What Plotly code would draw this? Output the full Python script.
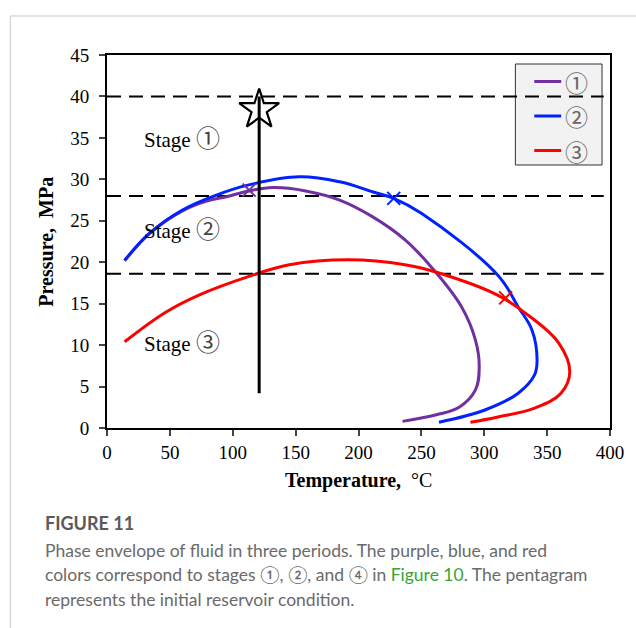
import plotly.graph_objects as go

# ---- data ----
t1 = [14, 34, 60, 80, 95, 113, 132, 158, 185, 211, 237, 258, 282, 293, 296, 293, 280, 262, 235]
p1 = [20.2, 23.5, 26.2, 27.4, 27.9, 28.6, 29.0, 28.6, 27.5, 25.5, 22.7, 19.4, 14.6, 10.6, 7.4, 4.6, 2.5, 1.6, 0.8]

t2 = [14, 34, 60, 87, 112, 153, 185, 211, 228, 250, 311, 327, 338, 342, 340, 327, 301, 264]
p2 = [20.2, 23.5, 26.3, 28.1, 29.3, 30.3, 29.7, 28.5, 27.7, 25.9, 18.4, 14.6, 11.8, 8.2, 6.4, 4.2, 2.2, 0.7]

t3 = [14, 47, 74, 113, 145, 192, 237, 264, 311, 335, 359, 368, 361, 340, 310, 289]
p3 = [10.4, 14.0, 16.1, 18.3, 19.7, 20.3, 19.7, 18.7, 16.0, 13.6, 10.3, 6.8, 4.2, 2.4, 1.3, 0.7]

cross_t = [113, 228, 317]
cross_p = [28.7, 27.7, 15.7]

series_names = ["①", "②", "③"]
colors = ["#7030A0", "#0022FF", "#FF0000"]

stage_bounds = [40, 28, 18.6]
init_T = 121
init_P = 38.4
well_P_min = 4.2

stage_words = ["Stage", "Stage", "Stage"]
stage_marks = ["①", "②", "③"]
stage_label_P = [35.2, 24.2, 10.5]
stage_label_T = 27.5

x_ticks = list(range(0, 401, 50))
y_ticks = list(range(0, 46, 5))

SERIF = "Liberation Serif, Times New Roman, Noto Sans CJK SC, serif"
SANS = "Lato, Open Sans, sans-serif"
CIRC = "Noto Sans CJK SC"

# pixel -> paper helpers for the plot area (107..612 x, 55..428 y)
PL, PR, PT, PB = 107, 612, 55, 428
def px(x):
    return (x - PL) / (PR - PL)
def py(y):
    return (PB - y) / (PB - PT)

fig = go.Figure()

for i, (t, p) in enumerate([(t1, p1), (t2, p2), (t3, p3)]):
    fig.add_trace(go.Scatter(
        x=t, y=p, mode="lines", name=series_names[i], showlegend=False,
        line=dict(color=colors[i], width=3, shape="spline", smoothing=1.1),
    ))

for i in range(3):
    fig.add_trace(go.Scatter(
        x=[cross_t[i]], y=[cross_p[i]], mode="markers", showlegend=False,
        marker=dict(symbol="x-thin", size=13, line=dict(color=colors[i], width=2), color=colors[i]),
    ))

# vertical line from initial condition
fig.add_trace(go.Scatter(
    x=[init_T, init_T], y=[well_P_min, stage_bounds[0]], mode="lines", showlegend=False,
    line=dict(color="black", width=3),
))
fig.add_trace(go.Scatter(
    x=[init_T], y=[init_P], mode="markers", showlegend=False,
    marker=dict(symbol="star-open", size=30, color="black", line=dict(color="black", width=2.2)),
))

# legend box (below the dashed lines, as in the reference)
fig.add_shape(type="rect", xref="paper", yref="paper", x0=px(517), x1=px(604), y0=py(165), y1=py(64),
              fillcolor="#f2f2f2", line=dict(color="#333333", width=1), layer="below")

for b in stage_bounds:
    fig.add_shape(type="line", xref="x", yref="y", x0=0, x1=395, y0=b, y1=b,
                  line=dict(color="black", width=2, dash="14px,8px"), layer="below")

legend_y = [81.5, 116, 150.5]
for i in range(3):
    fig.add_shape(type="line", xref="paper", yref="paper", x0=px(536), x1=px(563),
                  y0=py(legend_y[i]), y1=py(legend_y[i]),
                  line=dict(color=colors[i], width=3), layer="above")
    fig.add_annotation(x=px(578), y=py(legend_y[i]), xref="paper", yref="paper",
                       text=series_names[i], showarrow=False, xanchor="center", yanchor="middle",
                       font=dict(family=CIRC, size=23, color="#666666"))

for w, m, pp in zip(stage_words, stage_marks, stage_label_P):
    fig.add_annotation(x=stage_label_T, y=pp, xref="x", yref="y",
                       text=f"{w} <span style='font-family:{CIRC};font-size:24px;color:#444'>{m}</span>",
                       showarrow=False, xanchor="left", yanchor="middle",
                       font=dict(family=SERIF, size=21, color="black"))

# axis titles
fig.add_annotation(x=-0.123, y=0.5, xref="paper", yref="paper", xanchor="center", yanchor="middle",
                   text="<b>Pressure,  MPa</b>", textangle=-90, showarrow=False,
                   font=dict(family=SERIF, size=20, color="black"))
fig.add_annotation(x=0.5, y=-0.14, xref="paper", yref="paper", xanchor="center", yanchor="middle",
                   text="<b>Temperature,</b>  °C", showarrow=False,
                   font=dict(family=SERIF, size=20, color="black"))

# card border (page decoration)
fig.add_shape(type="line", xref="paper", yref="paper", x0=-0.192, x1=1.1, y0=1.1046, y1=1.1046,
              line=dict(color="#d9d9d9", width=1.5))
fig.add_shape(type="line", xref="paper", yref="paper", x0=-0.192, x1=-0.192, y0=1.1046, y1=-0.55,
              line=dict(color="#d9d9d9", width=1.5))

# caption
fig.add_annotation(x=-0.127, y=-0.255, xref="paper", yref="paper", xanchor="left", yanchor="middle",
                   text="<b>FIGURE 11</b>", showarrow=False,
                   font=dict(family=SANS, size=18, color="#5a5a5a"))
caption_lines = [
    "Phase envelope of fluid in three periods. The purple, blue, and red",
    "colors correspond to stages ①, ②, and ④ in <span style='color:#3aa335'>Figure 10</span>. The pentagram",
    "represents the initial reservoir condition.",
]
for k, line in enumerate(caption_lines):
    fig.add_annotation(x=-0.127, y=-0.328 - k * 0.0655, xref="paper", yref="paper",
                       xanchor="left", yanchor="middle", text=line, showarrow=False,
                       font=dict(family=SANS, size=17.5, color="#6a6a6a"))

fig.update_layout(
    width=636, height=628,
    margin=dict(l=107, r=24, t=55, b=200),
    paper_bgcolor="white", plot_bgcolor="white",
    showlegend=False,
    xaxis=dict(range=[0, 400], tickvals=x_ticks, ticks="outside", ticklen=6, tickwidth=2,
               showline=True, linewidth=2, linecolor="black", mirror=True, showgrid=False,
               zeroline=False, ticklabelstandoff=0,
               tickfont=dict(family=SERIF, size=19, color="black")),
    yaxis=dict(range=[0, 45], tickvals=y_ticks, ticks="outside", ticklen=6, tickwidth=2,
               showline=True, linewidth=2, linecolor="black", mirror=True, showgrid=False,
               zeroline=False, ticklabelstandoff=6,
               tickfont=dict(family=SERIF, size=19, color="black")),
)

fig.write_html("out.html")
